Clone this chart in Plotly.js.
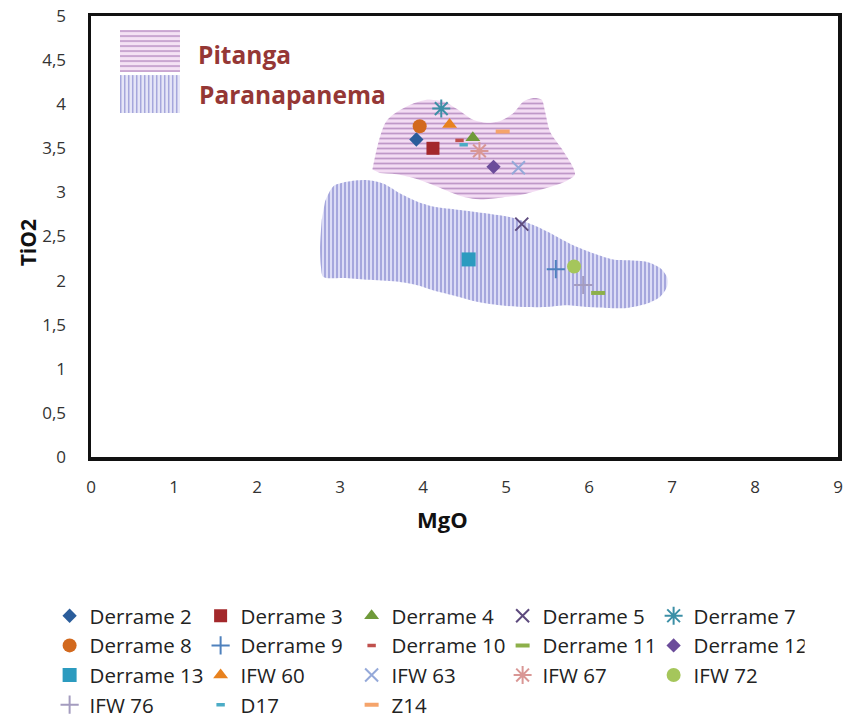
<!DOCTYPE html>
<html>
<head>
<meta charset="utf-8">
<script src="https://cdn.plot.ly/plotly-3.0.1.min.js"></script>
<style>html,body{margin:0;padding:0;background:#fff;}#chart{width:845px;height:727px;}</style>
</head>
<body>
<div id="chart"></div>
<script>
// ---------- DATA ----------
const sampleNames = ['Derrame 2','Derrame 3','Derrame 4','Derrame 5','Derrame 7',
  'Derrame 8','Derrame 9','Derrame 10','Derrame 11','Derrame 12',
  'Derrame 13','IFW 60','IFW 63','IFW 67','IFW 72','IFW 76','D17','Z14'];
const mgo  = [3.92, 4.12, 4.60, 5.19, 4.22, 3.96, 5.60, 4.44, 6.11, 4.85,
              4.55, 4.32, 5.15, 4.68, 5.82, 5.93, 4.49, 4.96];
const tio2 = [3.60, 3.50, 3.62, 2.64, 3.95, 3.75, 2.13, 3.59, 1.86, 3.29,
              2.24, 3.77, 3.28, 3.47, 2.16, 1.95, 3.54, 3.69];

// field outlines (MgO, TiO2)
const pitangaMgO  = [3.39,3.56,3.84,4.05,4.25,4.45,4.61,4.77,4.93,5.09,5.21,5.33,5.43,5.47,5.53,5.69,5.81,5.83,5.73,5.49,5.17,4.93,4.69,4.45,4.21,3.96,3.72,3.48];
const pitangaTiO2 = [3.26,3.81,3.99,4.05,4.03,3.92,3.82,3.79,3.81,3.90,4.03,4.07,4.05,3.92,3.69,3.47,3.28,3.20,3.13,3.05,2.97,2.94,2.92,2.96,3.05,3.14,3.20,3.22];
const paranaMgO  = [2.82,2.92,3.08,3.32,3.52,3.72,3.92,4.12,4.45,4.77,5.09,5.33,5.57,5.81,6.05,6.29,6.49,6.70,6.86,6.94,6.94,6.86,6.70,6.45,6.21,5.97,5.73,5.49,5.25,4.93,4.65,4.41,4.12,3.92,3.68,3.32,3.04,2.80,2.77,2.76,2.78];
const paranaTiO2 = [2.90,3.07,3.12,3.14,3.10,2.99,2.90,2.84,2.80,2.76,2.71,2.63,2.52,2.40,2.31,2.24,2.23,2.21,2.14,2.04,1.93,1.82,1.74,1.69,1.69,1.70,1.72,1.70,1.70,1.72,1.76,1.82,1.89,1.95,1.99,2.01,2.03,2.04,2.16,2.38,2.69];
const fieldNames = ['Pitanga','Paranapanema'];

const xTickVals = [0,1,2,3,4,5,6,7,8,9];
const yTickVals = [0,0.5,1,1.5,2,2.5,3,3.5,4,4.5,5];
const xTitle = 'MgO';
const yTitle = 'TiO2';

// ---------- STYLES ----------
const styles = {
  'Derrame 2':  {symbol:'diamond', color:'#2B5D9B', size:11},
  'Derrame 3':  {symbol:'square', color:'#A3282B', size:13},
  'Derrame 4':  {symbol:'triangle-up', color:'#6F9A3A', size:13},
  'Derrame 5':  {symbol:'x-thin-open', color:'#5E4B7E', size:13, lw:2},
  'Derrame 7':  {symbol:'asterisk-open', color:'#3C8FA6', size:15, lw:2},
  'Derrame 8':  {symbol:'circle', color:'#D2691E', size:14},
  'Derrame 9':  {symbol:'cross-thin-open', color:'#4F81BD', size:13, lw:2},
  'Derrame 10': {symbol:'line-ew-open', color:'#C0504D', size:6, lw:3.5},
  'Derrame 11': {symbol:'line-ew-open', color:'#8DB04A', size:10, lw:4},
  'Derrame 12': {symbol:'diamond', color:'#6B4C9A', size:11},
  'Derrame 13': {symbol:'square', color:'#2C9BBF', size:14},
  'IFW 60':     {symbol:'triangle-up', color:'#E8821E', size:13},
  'IFW 63':     {symbol:'x-thin-open', color:'#95A9D9', size:13, lw:2},
  'IFW 67':     {symbol:'asterisk-open', color:'#D99795', size:15, lw:2},
  'IFW 72':     {symbol:'circle', color:'#A5C65B', size:14},
  'IFW 76':     {symbol:'cross-thin-open', color:'#A49CBF', size:13, lw:2},
  'D17':        {symbol:'line-ew-open', color:'#4BACC6', size:6, lw:3.5},
  'Z14':        {symbol:'line-ew-open', color:'#F5A46B', size:10, lw:4}
};

const FONT = '"Open Sans", "Liberation Sans", sans-serif';

const traces = [];
traces.push({
  type:'scatter', mode:'lines', name:fieldNames[0], x:pitangaMgO, y:pitangaTiO2,
  fill:'toself', line:{width:0, color:'rgba(0,0,0,0)', shape:'spline', smoothing:0.8},
  fillpattern:{shape:'-', bgcolor:'#f3dcf3', fgcolor:'#bf98c8', size:5, solidity:0.35},
  showlegend:false, hoverinfo:'skip'
});
traces.push({
  type:'scatter', mode:'lines', name:fieldNames[1], x:paranaMgO, y:paranaTiO2,
  fill:'toself', line:{width:0, color:'rgba(0,0,0,0)', shape:'spline', smoothing:0.8},
  fillpattern:{shape:'|', bgcolor:'#dcdcf6', fgcolor:'#8f91d3', size:4, solidity:0.35},
  showlegend:false, hoverinfo:'skip'
});
sampleNames.forEach((n,i)=>{
  const s = styles[n];
  traces.push({
    type:'scatter', mode:'markers', name:n, x:[mgo[i]], y:[tio2[i]],
    marker:{symbol:s.symbol, color:s.color, size:s.size,
            line:{width:s.lw||0, color:s.color}}
  });
});

function stripeSVG(horizontal, w, h, period, thick, bg, fg){
  let lines = '';
  if(horizontal){
    for(let y=0;y<h;y+=period) lines += `<rect x='0' y='${y}' width='${w}' height='${thick}' fill='${fg}'/>`;
  } else {
    for(let x=0;x<w;x+=period) lines += `<rect x='${x}' y='0' width='${thick}' height='${h}' fill='${fg}'/>`;
  }
  const svg = `<svg xmlns='http://www.w3.org/2000/svg' width='${w}' height='${h}' viewBox='0 0 ${w} ${h}'><rect width='${w}' height='${h}' fill='${bg}'/>${lines}</svg>`;
  return 'data:image/svg+xml;charset=utf-8,' + encodeURIComponent(svg);
}

const layout = {
  width:845, height:727,
  margin:{l:91, r:7, t:16, b:270, autoexpand:false},
  paper_bgcolor:'#fff', plot_bgcolor:'#fff',
  separators:', ',
  font:{family:FONT, color:'#222'},
  showlegend:true,
  xaxis:{
    range:[0,9], tickvals:xTickVals, showgrid:false, zeroline:false,
    showline:true, linewidth:3.5, linecolor:'#111', mirror:true, ticks:'',
    tickfont:{size:17, color:'#333'}, ticklabelstandoff:12,
    fixedrange:true
  },
  yaxis:{
    range:[0,5], tickvals:yTickVals, showgrid:false, zeroline:false,
    showline:true, linewidth:3.5, linecolor:'#111', mirror:true, ticks:'',
    tickfont:{size:17, color:'#333'}, ticklabelstandoff:18,
    fixedrange:true
  },
  legend:{
    orientation:'h', x:-0.0554, xanchor:'left', y:-0.315, yanchor:'top',
    font:{size:20.5, color:'#222', family:FONT}, entrywidth:106, entrywidthmode:'pixels',
    traceorder:'normal', bgcolor:'rgba(0,0,0,0)'
  },
  images:[
    {source:stripeSVG(true,60,42,5,2,'#f4e2f4','#c9a6d1'), xref:'paper', yref:'paper',
     x:0.0388, y:0.968, sizex:0.0803, sizey:0.0952, sizing:'stretch', xanchor:'left', yanchor:'top', layer:'above'},
    {source:stripeSVG(false,60,38,4,1.5,'#e6e6f7','#a6a7dc'), xref:'paper', yref:'paper',
     x:0.0388, y:0.866, sizex:0.0803, sizey:0.0862, sizing:'stretch', xanchor:'left', yanchor:'top', layer:'above'}
  ],
  annotations:[
    {text:fieldNames[0], xref:'paper', yref:'paper', x:0.1405, y:0.9116, xanchor:'left', yanchor:'middle',
     showarrow:false, font:{size:24.5, color:'#953735', family:FONT, weight:'bold'}},
    {text:fieldNames[1], xref:'paper', yref:'paper', x:0.1418, y:0.8209, xanchor:'left', yanchor:'middle',
     showarrow:false, font:{size:24.5, color:'#953735', family:FONT, weight:'bold'}},
    {text:xTitle, xref:'paper', yref:'paper', x:0.47, y:-0.14, xanchor:'center', yanchor:'middle',
     showarrow:false, font:{size:22, color:'#111', family:FONT, weight:'bold'}},
    {text:yTitle, xref:'paper', yref:'paper', x:-0.084, y:0.485, xanchor:'center', yanchor:'middle',
     textangle:-90, showarrow:false, font:{size:21, color:'#111', family:FONT, weight:'bold'}}
  ]
};

Plotly.newPlot('chart', traces, layout, {displayModeBar:false, staticPlot:true});
</script>
</body>
</html>
